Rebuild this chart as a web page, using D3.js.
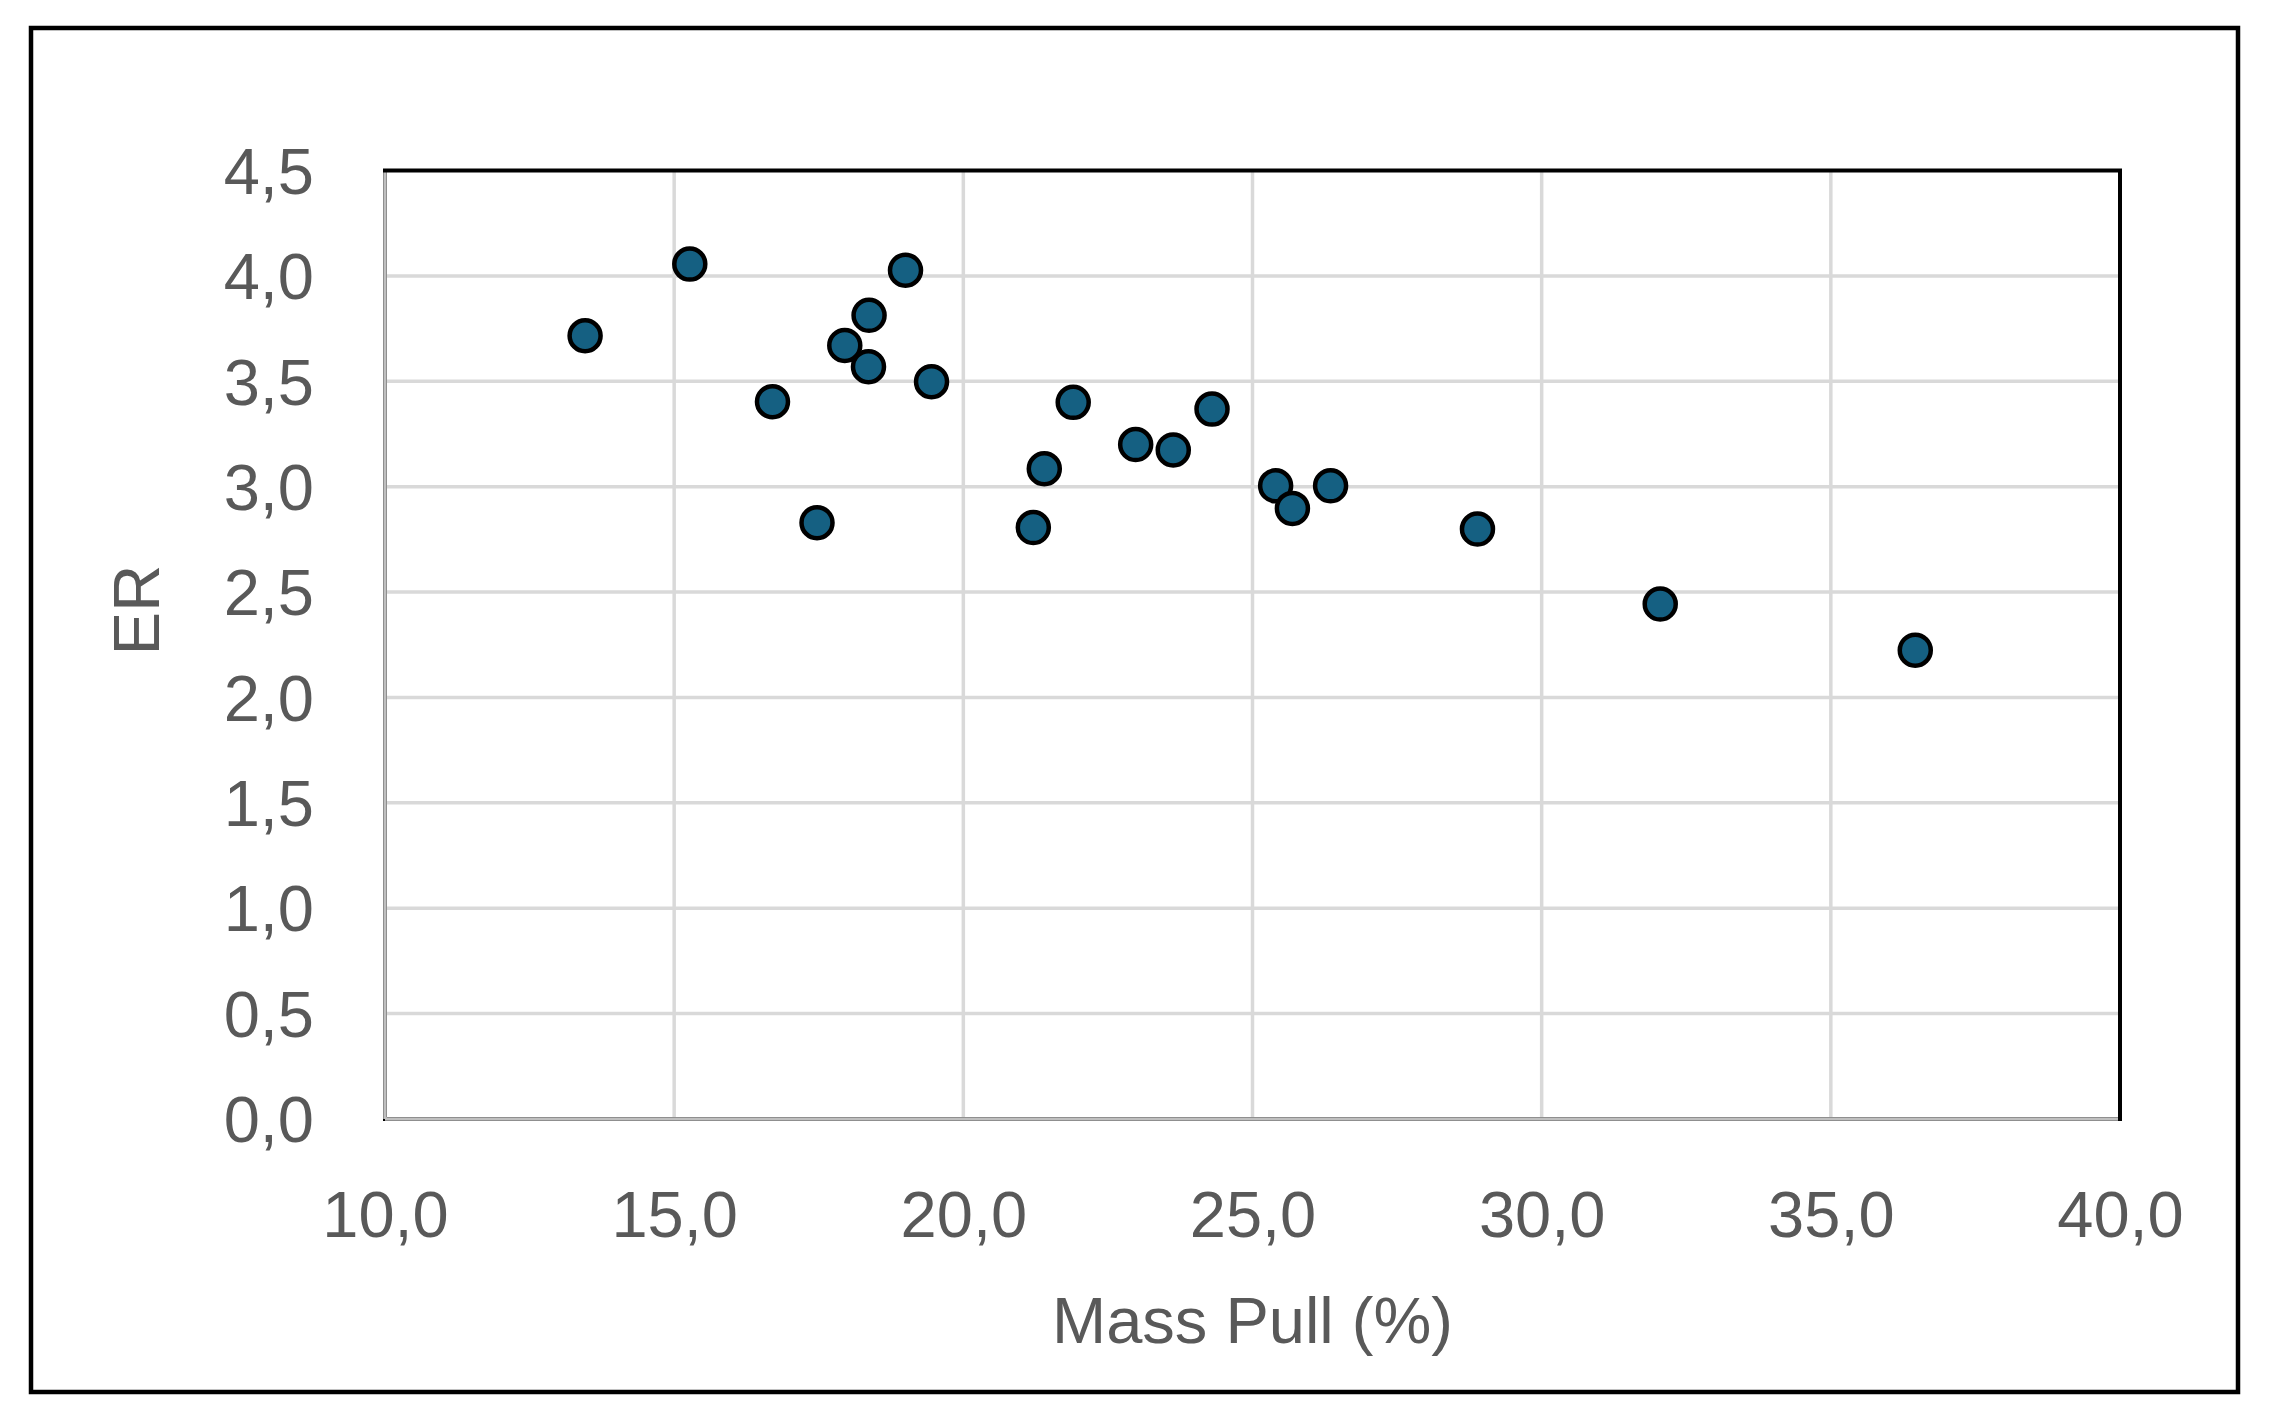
<!DOCTYPE html>
<html>
<head>
  <meta charset="utf-8">
  <script src="https://d3js.org/d3.v7.min.js"></script>
  <style>
    body { margin: 0; background: #fff; }
    text { font-family: "Liberation Sans", Arial, sans-serif; fill: #595959; }
  </style>
</head>
<body>
  <script type="text/javascript">
    // values
    var massPull = [13.46, 15.27, 19.0, 18.37, 17.95, 18.36, 19.45, 16.70, 17.47, 21.90,
                    21.40, 21.21, 22.98, 23.63, 24.30, 25.40, 25.69, 26.35, 28.89, 32.05, 36.46];
    var er = [3.716, 4.056, 4.027, 3.813, 3.670, 3.569, 3.498, 3.403, 2.829, 3.400,
              3.085, 2.806, 3.200, 3.174, 3.368, 3.004, 2.897, 3.004, 2.799, 2.443, 2.224];
    var xTicks = [10, 15, 20, 25, 30, 35, 40];
    var yTicks = [0, 0.5, 1, 1.5, 2, 2.5, 3, 3.5, 4, 4.5];

    var W = 2270, H = 1423;
    var plot = { left: 385, right: 2120, top: 170.5, bottom: 1119 };

    var fmt = function(d) { return d3.format(".1f")(d).replace(".", ","); };

    var svg = d3.select("body").append("svg")
      .attr("width", W)
      .attr("height", H);

    // outer chart border
    svg.append("rect")
      .attr("x", 31).attr("y", 28)
      .attr("width", 2238 - 31).attr("height", 1392 - 28)
      .attr("fill", "#fff")
      .attr("stroke", "#000")
      .attr("stroke-width", 4.5);

    var x = d3.scaleLinear().domain([10, 40]).range([plot.left, plot.right]);
    var y = d3.scaleLinear().domain([0, 4.5]).range([plot.bottom, plot.top]);

    // gridlines
    svg.append("g").selectAll("line.v")
      .data(xTicks.slice(1, -1))
      .enter().append("line")
      .attr("x1", function(d) { return x(d); })
      .attr("x2", function(d) { return x(d); })
      .attr("y1", plot.top).attr("y2", plot.bottom)
      .attr("stroke", "#d9d9d9").attr("stroke-width", 3.5);

    svg.append("g").selectAll("line.h")
      .data(yTicks.slice(1, -1))
      .enter().append("line")
      .attr("x1", plot.left).attr("x2", plot.right)
      .attr("y1", function(d) { return y(d); })
      .attr("y2", function(d) { return y(d); })
      .attr("stroke", "#d9d9d9").attr("stroke-width", 3.5);

    // plot area border (black), axes drawn on top in grey
    svg.append("rect")
      .attr("x", plot.left).attr("y", plot.top)
      .attr("width", plot.right - plot.left)
      .attr("height", plot.bottom - plot.top)
      .attr("fill", "none")
      .attr("stroke", "#000")
      .attr("stroke-width", 4);

    svg.append("line")
      .attr("x1", plot.left).attr("x2", plot.left)
      .attr("y1", plot.top + 2).attr("y2", plot.bottom)
      .attr("stroke", "#bfbfbf").attr("stroke-width", 3.5);
    svg.append("line")
      .attr("x1", plot.left).attr("x2", plot.right - 2)
      .attr("y1", plot.bottom).attr("y2", plot.bottom)
      .attr("stroke", "#bfbfbf").attr("stroke-width", 3.5);

    // axes labels via d3 axes
    var xAxis = d3.axisBottom(x).tickValues(xTicks).tickFormat(fmt).tickSize(0).tickPadding(0);
    var gx = svg.append("g").attr("transform", "translate(0," + 1237 + ")").call(xAxis);
    gx.select(".domain").remove();
    gx.selectAll("text")
      .attr("dy", 0).attr("y", 0)
      .style("font-size", "65px")
      .attr("fill", "#595959");

    var yAxis = d3.axisLeft(y).tickValues(yTicks).tickFormat(fmt).tickSize(0).tickPadding(0);
    var gy = svg.append("g").attr("transform", "translate(" + 314 + ",0)").call(yAxis);
    gy.select(".domain").remove();
    gy.selectAll("text")
      .attr("dy", "0.35em")
      .style("font-size", "65px")
      .attr("fill", "#595959");

    // axis titles
    svg.append("text")
      .attr("x", (plot.left + plot.right) / 2)
      .attr("y", 1343)
      .attr("text-anchor", "middle")
      .style("font-size", "65px")
      .text("Mass Pull (%)");

    svg.append("text")
      .attr("transform", "translate(159,610) rotate(-90)")
      .attr("text-anchor", "middle")
      .style("font-size", "65px")
      .text("ER");

    // points
    svg.append("g").selectAll("circle")
      .data(d3.range(massPull.length))
      .enter().append("circle")
      .attr("cx", function(i) { return x(massPull[i]); })
      .attr("cy", function(i) { return y(er[i]); })
      .attr("r", 15.5)
      .attr("fill", "#156082")
      .attr("stroke", "#000")
      .attr("stroke-width", 4.5);
  </script>
</body>
</html>
